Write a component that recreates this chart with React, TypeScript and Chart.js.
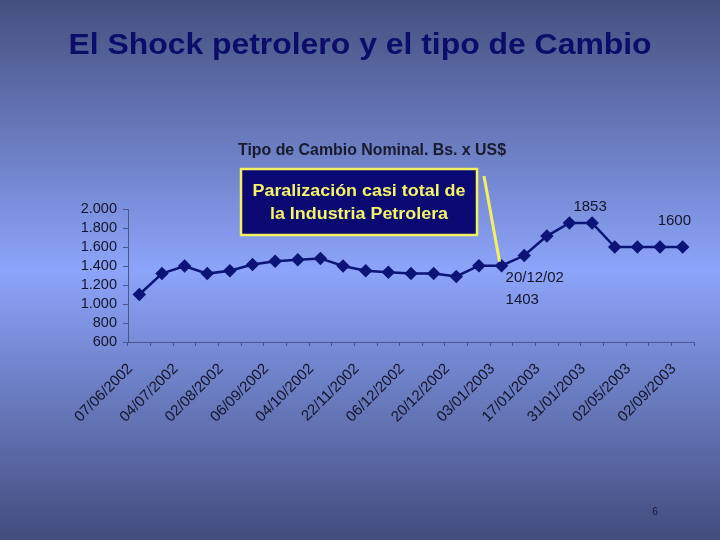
import React, { useEffect, useRef } from "react";
import { Chart, registerables } from "chart.js";

Chart.register(...registerables);

const tickLabels = [
  "07/06/2002", "04/07/2002", "02/08/2002", "06/09/2002", "04/10/2002",
  "22/11/2002", "06/12/2002", "20/12/2002", "03/01/2003", "17/01/2003",
  "31/01/2003", "02/05/2003", "02/09/2003",
];

const rates = [
  1100, 1320, 1400, 1320, 1350, 1415, 1450, 1465, 1480, 1400, 1350, 1335,
  1320, 1320, 1290, 1403, 1403, 1510, 1715, 1853, 1853, 1600, 1600, 1600, 1600,
];

const categories = rates.map((_, i) => (i % 2 === 0 ? tickLabels[i / 2] : ""));

const slideTitle = "El Shock petrolero y el tipo de Cambio";
const chartTitle = "Tipo de Cambio Nominal. Bs. x US$";
const boxLines = ["Paralización casi total de", "la Industria Petrolera"];
const eventIndex = 16;
const peakIndex = 20;
const endIndex = 23;

const AXIS = "#4a5590";
const LINE = "#0c1478";
const TEXT = "#14142a";

function fmt(v: number): string {
  if (v >= 1000) {
    const th = Math.floor(v / 1000);
    const r = String(v % 1000).padStart(3, "0");
    return `${th}.${r}`;
  }
  return String(v);
}

const decorPlugin = {
  id: "decor",
  beforeDraw(chart: any) {
    const { ctx, width, height } = chart;
    const g = ctx.createLinearGradient(0, 0, 0, height);
    g.addColorStop(0, "#44507e");
    g.addColorStop(0.5, "#8ca4fa");
    g.addColorStop(1, "#424c7c");
    ctx.save();
    ctx.fillStyle = g;
    ctx.fillRect(0, 0, width, height);
    ctx.restore();
  },
  afterDraw(chart: any) {
    const { ctx } = chart;
    const x = chart.scales.x;
    const y = chart.scales.y;
    ctx.save();
    // chart title
    ctx.fillStyle = "#1a1a2c";
    ctx.font = "bold 16px 'Liberation Sans', Arial, sans-serif";
    ctx.textAlign = "center";
    ctx.textBaseline = "alphabetic";
    const tw = ctx.measureText(chartTitle).width;
    ctx.save();
    ctx.translate(372, 155);
    ctx.scale(268 / tw, 1.05);
    ctx.fillText(chartTitle, 0, 0);
    ctx.restore();

    // connector line
    const ex = x.getPixelForValue(eventIndex);
    const ey = y.getPixelForValue(rates[eventIndex]);
    ctx.strokeStyle = "#f4f060";
    ctx.lineWidth = 3;
    ctx.beginPath();
    ctx.moveTo(484, 176);
    ctx.lineTo(ex - 2, ey - 4);
    ctx.stroke();

    // box
    ctx.fillStyle = "#0a0a72";
    ctx.fillRect(240, 168, 238, 68);
    ctx.strokeStyle = "#f4f060";
    ctx.lineWidth = 2.5;
    ctx.strokeRect(241, 169, 236, 66);
    ctx.fillStyle = "#f8f468";
    ctx.font = "bold 16px 'Liberation Sans', Arial, sans-serif";
    const w1 = ctx.measureText(boxLines[0]).width;
    const sx = 213 / w1;
    ctx.save();
    ctx.translate(359, 196);
    ctx.scale(sx, 1);
    ctx.fillText(boxLines[0], 0, 0);
    ctx.fillText(boxLines[1], 0, 23);
    ctx.restore();

    // value annotations
    ctx.fillStyle = TEXT;
    ctx.font = "15px 'Liberation Sans', Arial, sans-serif";
    const px = x.getPixelForValue(peakIndex);
    const py = y.getPixelForValue(rates[peakIndex]);
    ctx.textAlign = "center";
    ctx.fillText(String(rates[peakIndex]), px - 2, py - 12);
    const qx = (x.getPixelForValue(endIndex) + x.getPixelForValue(endIndex + 1)) / 2;
    const qy = y.getPixelForValue(rates[endIndex]);
    ctx.fillText(String(rates[endIndex]), qx + 3, qy - 22);
    ctx.textAlign = "left";
    ctx.fillText("20/12/02", ex + 4, ey + 16);
    ctx.fillText(String(rates[eventIndex]), ex + 4, ey + 38);
    ctx.restore();
  },
};

export default function App() {
  const ref = useRef<HTMLCanvasElement>(null);
  useEffect(() => {
    const chart = new Chart(ref.current as HTMLCanvasElement, {
      type: "line",
      data: {
        labels: categories,
        datasets: [
          {
            data: rates,
            borderColor: LINE,
            backgroundColor: LINE,
            borderWidth: 2.5,
            pointStyle: "rectRot",
            pointRadius: 5,
            pointBackgroundColor: LINE,
            pointBorderColor: LINE,
            tension: 0,
          },
        ],
      },
      options: {
        animation: false,
        responsive: false,
        events: [],
        layout: { padding: { top: 209, right: 26, left: 0, bottom: 0 } },
        plugins: { legend: { display: false }, title: { display: false }, tooltip: { enabled: false } },
        scales: {
          x: {
            offset: true,
            grid: { offset: true, drawOnChartArea: false, drawTicks: true, tickLength: 4, color: AXIS },
            border: { display: true, color: AXIS, width: 1 },
            ticks: {
              autoSkip: false,
              maxRotation: 45,
              minRotation: 45,
              padding: 14,
              labelOffset: -9,
              color: TEXT,
              font: { family: "'Liberation Sans', Arial, sans-serif", size: 15 },
            },
            afterFit: (s: any) => {
              s.height = 198;
            },
          },
          y: {
            min: 600,
            max: 2000,
            grid: { drawOnChartArea: false, drawTicks: true, tickLength: 5, color: AXIS },
            border: { display: true, color: AXIS, width: 1 },
            ticks: {
              stepSize: 200,
              autoSkip: false,
              padding: 6,
              color: TEXT,
              font: { family: "'Liberation Sans', Arial, sans-serif", size: 14.5 },
              callback: (v: any) => fmt(Number(v)),
            },
            afterFit: (s: any) => {
              s.width = 128;
            },
          },
        },
      },
      plugins: [decorPlugin],
    });
    return () => chart.destroy();
  }, []);

  return (
    <div style={{ position: "absolute", left: 0, top: 0, width: 720, height: 540, overflow: "hidden" }}>
      <canvas ref={ref} width={720} height={540} style={{ position: "absolute", left: 0, top: 0, width: 720, height: 540 }} />
      <div
        style={{
          position: "absolute",
          left: 0,
          top: 26,
          width: 720,
          textAlign: "center",
          fontFamily: "'Liberation Sans', Arial, sans-serif",
          fontWeight: "bold",
          fontSize: 29,
          lineHeight: "36px",
          color: "#0c0c6a",
          transform: "scaleX(1.1)",
          transformOrigin: "360px 0",
        }}
      >
        {slideTitle}
      </div>
      <div
        style={{
          position: "absolute",
          left: 635,
          top: 505,
          width: 40,
          textAlign: "center",
          fontFamily: "'Liberation Sans', Arial, sans-serif",
          fontSize: 10,
          lineHeight: "14px",
          color: "#1a1a3a",
        }}
      >
        6
      </div>
    </div>
  );
}
